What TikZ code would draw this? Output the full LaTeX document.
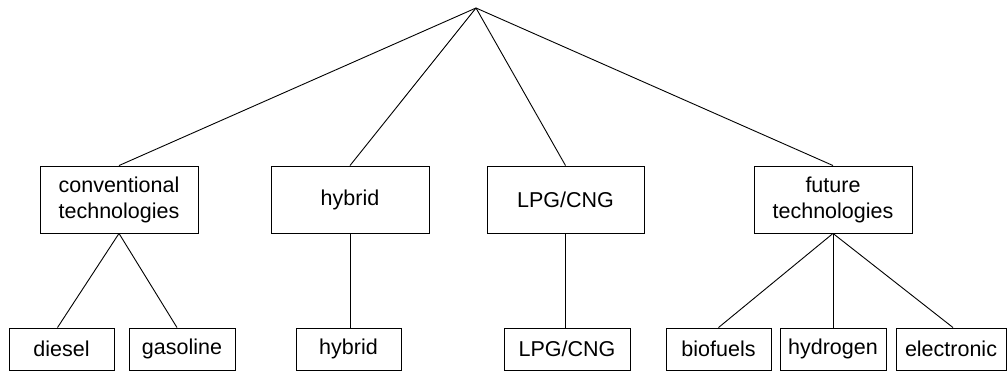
\documentclass[tikz,border=0pt]{standalone}
\usepackage{fontspec}
\setmainfont{Liberation Sans}
\begin{document}
\begin{tikzpicture}[x=1pt,y=-1pt,
  topbox/.style={draw, line width=0.9pt, minimum width=158pt, minimum height=67pt, inner sep=0pt, align=center, font=\fontsize{21.5}{26}\selectfont},
  leafbox/.style={draw, line width=0.9pt, minimum height=42pt, inner sep=0pt, align=center, font=\fontsize{21.5}{26}\selectfont},
  link/.style={draw, line width=0.9pt}]
\useasboundingbox (0,0) rectangle (1007,371);
\coordinate (root) at (476,8);
\node[topbox] (conv) at (119,199.5) {conventional\\technologies};
\node[topbox] (hyb) at (350,199.5) {hybrid};
\node[topbox, minimum width=157pt] (lpg) at (565.5,199.5) {LPG/CNG};
\node[topbox] (fut) at (833,199.5) {future\\technologies};
\node[leafbox, minimum width=105pt] (diesel) at (61.5,349) {diesel};
\node[leafbox, minimum width=106pt] (gas) at (182,349) {gasoline};
\node[leafbox, minimum width=105pt] (hyb2) at (348.5,349) {hybrid};
\node[leafbox, minimum width=126pt] (lpg2) at (567,349) {LPG/CNG};
\node[leafbox, minimum width=105pt] (bio) at (718.5,349) {biofuels};
\node[leafbox, minimum width=106pt] (hydro) at (833,349) {hydrogen};
\node[leafbox, minimum width=110pt] (elec) at (951,349) {electronic};
\path[link] (root) -- (conv.north);
\path[link] (root) -- (hyb.north);
\path[link] (root) -- (lpg.north);
\path[link] (root) -- (fut.north);
\path[link] (conv.south) -- ([xshift=-4pt]diesel.north);
\path[link] (conv.south) -- ([xshift=-5pt]gas.north);
\path[link] (hyb.south) -- (hyb.south |- hyb2.north);
\path[link] (lpg.south |- lpg2.north) -- (lpg.south);
\path[link] (fut.south) -- (bio.north);
\path[link] (fut.south) -- (hydro.north);
\path[link] (fut.south) -- ([xshift=2pt]elec.north);
\end{tikzpicture}
\end{document}
